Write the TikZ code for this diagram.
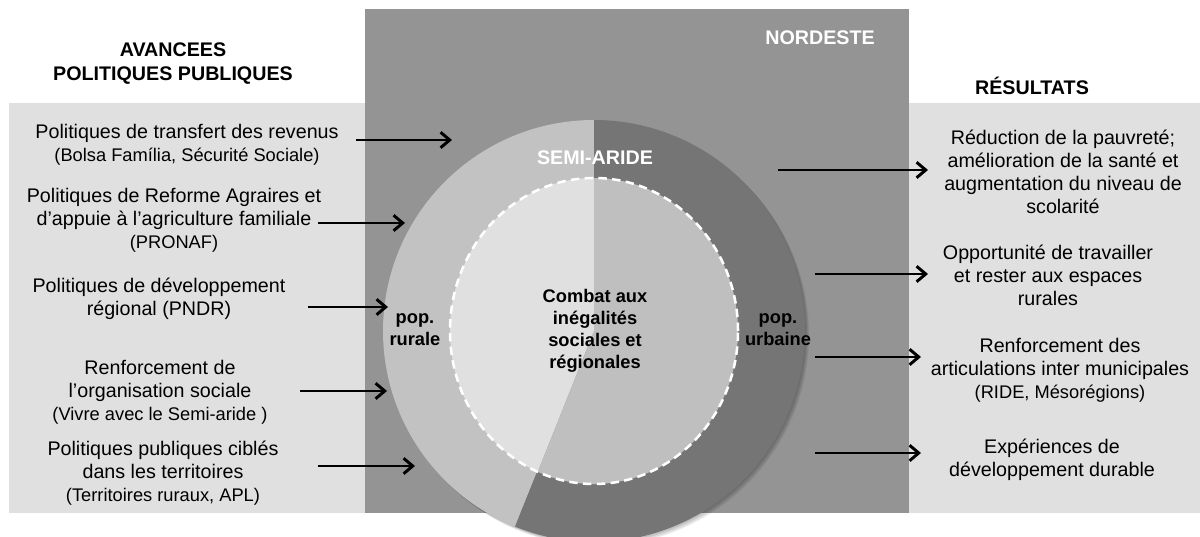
\documentclass[tikz,border=0pt]{standalone}
\usepackage{fontspec}
\setmainfont{Liberation Sans}
\usetikzlibrary{arrows.meta}

\definecolor{bandgray}{gray}{0.88}
\definecolor{nordgray}{gray}{0.58}
\definecolor{ruralring}{gray}{0.76}
\definecolor{urbanring}{gray}{0.46}
\definecolor{ruralcore}{gray}{0.88}
\definecolor{urbancore}{gray}{0.75}

\newcommand{\petit}{\fontsize{13}{16.4}\selectfont}

\tikzset{
	fleche/.style={line width=2.1pt, -{Straight Barb[length=6.5pt,width=11pt]}},
	txt/.style={align=center, inner sep=0pt, font=\fontsize{14}{16.4}\selectfont},
	titre/.style={align=center, inner sep=0pt, font=\bfseries\fontsize{14}{17}\selectfont},
	cercle/.style={align=center, inner sep=0pt, font=\bfseries\fontsize{13}{15.5}\selectfont}
}

\begin{document}
\begin{tikzpicture}[x=0.025cm, y=0.025cm]
	\pgfmathsetmacro{\R}{211}
	\pgfmathsetmacro{\cut}{248}
	\useasboundingbox (0,0) rectangle (1200,537);
	\fill[bandgray] (9,24) rectangle (1200,434);
	\fill[nordgray] (365,24) rectangle (909,528);
	\coordinate (centre) at (594,206);
	\foreach \k in {1,...,4}
		\fill[black, opacity=0.07] (594+\k,206-\k) circle (\R);
	\fill[ruralring] (centre) -- +(90:\R) arc[start angle=90, end angle=\cut, radius=\R] -- cycle;
	\fill[urbanring] (centre) -- +(\cut:\R) arc[start angle=\cut, end angle=450, radius=\R] -- cycle;
	\fill[ruralcore] (centre) -- +(90:144 and 153) arc[start angle=90, end angle=247, x radius=144, y radius=153] -- cycle;
	\fill[urbancore] (centre) -- +(247:144 and 153) arc[start angle=247, end angle=450, x radius=144, y radius=153] -- cycle;
	\draw[white, line width=1.8pt, dash pattern=on 6pt off 3.8pt] (centre) ellipse[x radius=144, y radius=153];

	\node[titre] (avancees) at (173,473) {AVANCEES\\POLITIQUES PUBLIQUES};
	\node[titre] (resultats) at (1032,451) {RÉSULTATS};
	\node[titre, text=white] (nordeste) at (820,499) {NORDESTE};
	\node[titre, text=white] (semiaride) at (595,379) {SEMI-ARIDE};
	\node[cercle] (rurale) at (415,207) {pop.\\rurale};
	\node[cercle] (urbaine) at (778,207) {pop.\\urbaine};
	\node[cercle] (combat) at (595,206) {Combat aux\\inégalités\\sociales et\\régionales};

	\node[txt] (transfert) at (187,392) {Politiques de transfert des revenus\\{\petit (Bolsa Família, Sécurité Sociale)}};
	\node[txt] (agraire) at (174,317) {Politiques de Reforme Agraires et\\d’appuie à l’agriculture familiale\\{\petit (PRONAF)}};
	\node[txt] (regional) at (159,238) {Politiques de développement\\régional (PNDR)};
	\node[txt] (organisation) at (160,145) {Renforcement de\\l’organisation sociale\\{\petit (Vivre avec le Semi-aride )}};
	\node[txt] (territoires) at (163,64) {Politiques publiques ciblés\\dans les territoires\\{\petit (Territoires ruraux, APL)}};

	\node[txt] (pauvrete) at (1063,365) {Réduction de la pauvreté;\\amélioration de la santé et\\augmentation du niveau de\\scolarité};
	\node[txt] (travail) at (1048,262) {Opportunité de travailler\\et rester aux espaces\\rurales};
	\node[txt] (articulations) at (1060,167) {Renforcement des\\articulations inter municipales\\{\petit (RIDE, Mésorégions)}};
	\node[txt] (durable) at (1052,77) {Expériences de\\développement durable};

	\foreach \nm/\xa/\xb/\yy in {fa/356/452/397, fb/318/405/314, fc/308/388/230, fd/300/387/146, fe/318/415/71, ff/778/928/367, fg/815/928/263, fh/815/921/180, fi/815/921/84}{
		\coordinate (\nm0) at (\xa,\yy);
		\coordinate (\nm1) at (\xb,\yy);
		\draw[fleche] (\nm0) -- (\nm1);
	}
\end{tikzpicture}
\end{document}
